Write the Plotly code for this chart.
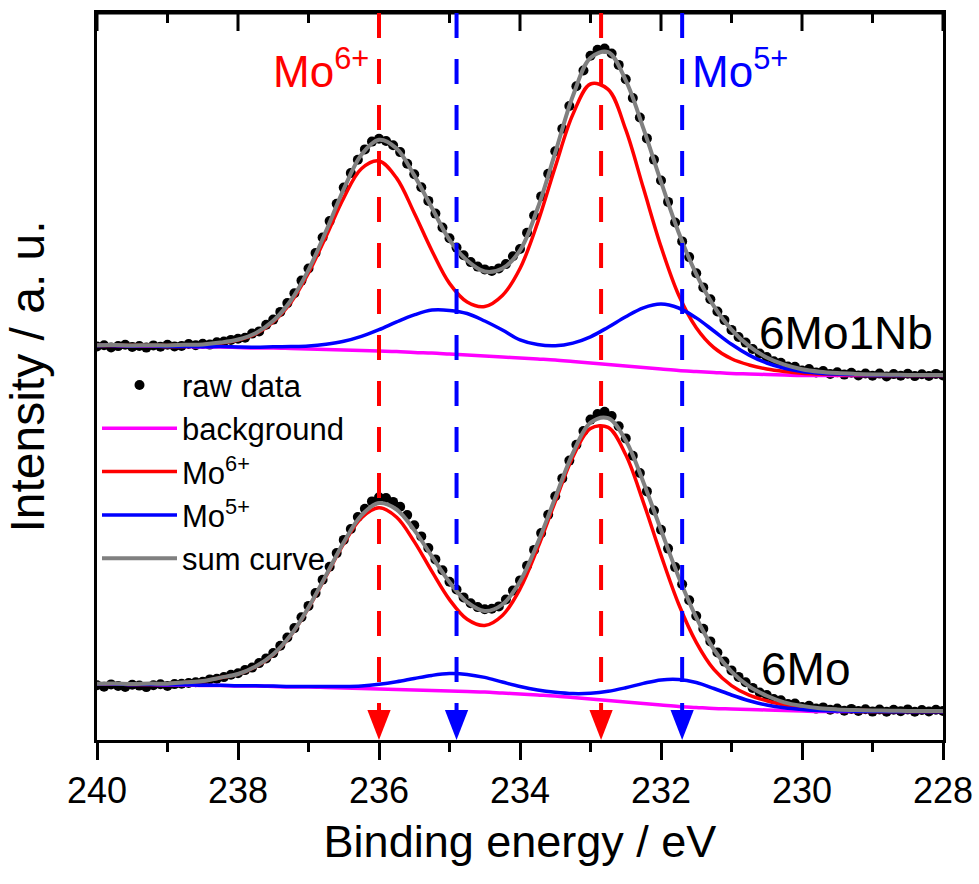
import plotly.graph_objects as go

# ---------------- data ----------------
comp_energy = [240.0, 239.75, 239.5, 239.25, 239.0, 238.75, 238.5, 238.25, 238.0, 237.75,
               237.5, 237.25, 237.0, 236.75, 236.5, 236.25, 236.0, 235.75, 235.5, 235.25,
               235.0, 234.75, 234.5, 234.25, 234.0, 233.75, 233.5, 233.25, 233.0, 232.75,
               232.5, 232.25, 232.0, 231.75, 231.5, 231.25, 231.0, 230.75, 230.5, 230.25,
               230.0, 229.75, 229.5, 229.25, 229.0, 228.75, 228.5, 228.25, 228.0]

raw_energy = [240.0, 239.9, 239.8, 239.7, 239.6, 239.5, 239.4, 239.3, 239.2, 239.1,
              239.0, 238.9, 238.8, 238.7, 238.6, 238.5, 238.4, 238.3, 238.2, 238.1,
              238.0, 237.9, 237.8, 237.7, 237.6, 237.5, 237.4, 237.3, 237.2, 237.1,
              237.0, 236.9, 236.8, 236.7, 236.6, 236.5, 236.4, 236.3, 236.2, 236.1,
              236.0, 235.9, 235.8, 235.7, 235.6, 235.5, 235.4, 235.3, 235.2, 235.1,
              235.0, 234.9, 234.8, 234.7, 234.6, 234.5, 234.4, 234.3, 234.2, 234.1,
              234.0, 233.9, 233.8, 233.7, 233.6, 233.5, 233.4, 233.3, 233.2, 233.1,
              233.0, 232.9, 232.8, 232.7, 232.6, 232.5, 232.4, 232.3, 232.2, 232.1,
              232.0, 231.9, 231.8, 231.7, 231.6, 231.5, 231.4, 231.3, 231.2, 231.1,
              231.0, 230.9, 230.8, 230.7, 230.6, 230.5, 230.4, 230.3, 230.2, 230.1,
              230.0, 229.9, 229.8, 229.7, 229.6, 229.5, 229.4, 229.3, 229.2, 229.1,
              229.0, 228.9, 228.8, 228.7, 228.6, 228.5, 228.4, 228.3, 228.2, 228.1,
              228.0]

# 6Mo1Nb (upper spectrum)
nb_raw = [393.5, 394.8, 392.6, 393.9, 395.2, 393.1, 394.0, 392.4, 394.6, 393.2,
          395.3, 393.6, 394.1, 396.0, 394.7, 396.3, 395.4, 397.8, 398.4, 400.1,
          401.3, 402.2, 406.4, 408.6, 415.3, 420.4, 428.1, 436.9, 446.8, 459.4,
          471.5, 487.0, 502.5, 518.9, 536.2, 552.4, 566.9, 580.3, 590.6, 598.4,
          601.2, 599.0, 594.8, 587.9, 576.2, 565.8, 552.7, 539.1, 526.4, 512.5,
          501.8, 492.4, 484.8, 477.9, 473.4, 470.6, 469.0, 471.6, 475.9, 483.7,
          491.0, 507.2, 524.5, 543.6, 566.3, 588.7, 611.2, 634.0, 653.8, 669.5,
          684.3, 690.2, 691.4, 686.5, 675.1, 660.8, 642.0, 622.5, 601.6, 580.4,
          559.5, 538.1, 517.5, 498.6, 482.9, 466.7, 452.6, 440.8, 428.5, 419.9,
          410.1, 403.0, 397.4, 391.0, 386.4, 382.9, 378.8, 377.2, 373.5, 373.3,
          369.5, 370.9, 367.6, 368.9, 366.1, 367.8, 365.4, 367.2, 364.6, 366.5,
          364.3, 366.4, 363.6, 365.9, 364.2, 366.3, 363.9, 365.7, 364.0, 366.1,
          364.5]
nb_background = [394.5, 394.5, 394.0, 394.0, 393.5, 393.5, 393.0, 393.0, 392.5, 392.0,
                 392.0, 391.5, 391.0, 390.5, 390.0, 389.5, 389.0, 388.5, 387.5, 387.0,
                 386.0, 385.0, 384.0, 383.0, 382.0, 381.0, 380.0, 378.5, 377.0, 375.5,
                 374.0, 372.5, 371.0, 369.5, 368.5, 367.5, 366.5, 366.0, 365.5, 365.0,
                 364.5, 364.5, 364.5, 364.5, 364.5, 364.5, 364.5, 364.5, 364.5]
nb_mo6 = [394.7, 394.8, 394.4, 394.6, 394.4, 394.9, 395.3, 397.0, 400.0, 406.0,
          418.0, 437.5, 467.0, 503.8, 542.1, 571.2, 579.0, 561.9, 527.0, 489.3,
          456.6, 438.0, 433.5, 444.5, 471.5, 517.3, 573.1, 625.6, 656.0, 650.6,
          610.3, 551.9, 493.4, 445.0, 412.3, 392.4, 381.2, 375.0, 371.0, 368.5,
          366.8, 366.0, 365.5, 365.2, 365.0, 364.9, 364.8, 364.7, 364.7]
nb_mo5 = [394.6, 394.6, 394.1, 394.2, 393.7, 393.8, 393.3, 393.4, 393.0, 392.8,
          393.2, 393.5, 394.1, 395.8, 398.7, 403.6, 410.3, 418.1, 425.1, 429.9,
          429.6, 426.5, 419.0, 410.0, 400.1, 395.4, 394.2, 396.9, 403.2, 412.8,
          423.3, 432.2, 435.9, 432.0, 422.1, 409.0, 395.7, 384.9, 377.0, 371.8,
          368.5, 366.8, 365.9, 365.4, 365.1, 364.9, 364.8, 364.7, 364.7]
nb_sum = [394.8, 394.9, 394.5, 394.8, 394.6, 395.2, 395.6, 397.4, 400.5, 406.8,
          419.2, 439.5, 470.1, 509.1, 550.8, 585.3, 600.3, 591.5, 564.6, 532.2,
          500.2, 479.5, 468.5, 471.5, 489.6, 531.7, 587.3, 644.0, 682.2, 687.9,
          659.6, 611.6, 558.3, 507.5, 465.9, 433.9, 410.4, 393.9, 382.5, 375.3,
          370.8, 368.3, 366.9, 366.1, 365.6, 365.3, 365.1, 364.9, 364.9]

# 6Mo (lower spectrum)
mo_raw = [54.8, 53.2, 55.6, 54.1, 53.0, 55.2, 54.4, 52.9, 54.7, 55.8,
          54.0, 55.9, 56.2, 57.0, 57.8, 58.3, 60.6, 61.2, 62.9, 65.3,
          66.8, 69.9, 72.4, 76.9, 81.6, 86.9, 94.3, 102.5, 111.9, 122.8,
          134.1, 146.9, 160.3, 173.2, 186.9, 200.1, 211.0, 223.0, 231.3, 238.6,
          242.7, 242.0, 238.1, 233.2, 224.9, 214.8, 203.6, 192.0, 180.6, 169.8,
          158.3, 150.5, 142.6, 136.7, 132.9, 130.8, 131.2, 133.6, 140.5, 149.4,
          159.6, 174.2, 190.1, 206.9, 225.3, 243.7, 261.6, 279.4, 295.2, 309.0,
          320.4, 326.0, 328.2, 323.9, 313.8, 301.6, 284.3, 267.0, 248.6, 229.5,
          210.3, 191.4, 172.9, 155.7, 139.8, 124.0, 111.2, 98.6, 87.5, 78.4,
          69.6, 63.1, 57.8, 52.1, 47.5, 44.9, 41.0, 39.8, 36.1, 36.4,
          33.0, 34.3, 31.4, 32.6, 30.2, 31.5, 29.2, 31.1, 29.0, 30.8,
          28.4, 30.5, 28.3, 30.2, 28.7, 30.6, 28.2, 30.0, 28.6, 30.3,
          29.1]
mo_background = [56.0, 56.0, 55.5, 55.5, 55.0, 55.0, 54.5, 54.5, 54.0, 54.0,
                 53.5, 53.0, 53.0, 52.5, 52.0, 51.5, 51.0, 50.5, 50.0, 49.5,
                 49.0, 48.5, 48.0, 47.0, 46.0, 45.0, 44.0, 42.5, 41.0, 39.5,
                 38.0, 36.5, 35.0, 33.5, 32.5, 31.5, 31.0, 30.5, 30.0, 29.5,
                 29.0, 28.5, 28.5, 28.5, 28.5, 28.5, 28.5, 28.5, 28.5]
mo_mo6 = [56.2, 56.3, 55.9, 56.2, 56.1, 57.5, 58.8, 62.2, 65.8, 73.2,
          85.4, 104.7, 132.0, 164.0, 196.3, 222.1, 232.2, 222.8, 198.4, 168.6,
          140.4, 120.7, 114.5, 124.5, 151.0, 191.9, 238.5, 283.0, 311.6, 312.6,
          285.2, 237.7, 184.9, 136.0, 97.7, 70.6, 54.4, 44.8, 39.3, 35.0,
          32.6, 30.9, 30.1, 29.6, 29.3, 29.1, 29.0, 28.9, 28.8]
mo_mo5 = [56.1, 56.1, 55.6, 55.7, 55.2, 55.2, 54.7, 54.7, 54.2, 54.3,
          53.9, 53.4, 53.6, 53.4, 53.5, 54.1, 55.7, 58.2, 61.5, 64.6,
          66.4, 65.6, 62.6, 58.0, 53.5, 50.0, 47.7, 46.4, 46.7, 48.7,
          52.3, 56.6, 60.1, 60.6, 57.5, 51.5, 45.0, 39.3, 35.0, 32.2,
          30.5, 29.4, 29.0, 28.8, 28.7, 28.6, 28.6, 28.6, 28.6]
mo_sum = [56.3, 56.4, 56.0, 56.4, 56.3, 57.7, 59.0, 62.4, 66.0, 73.5,
          85.8, 105.1, 132.6, 164.9, 197.8, 224.7, 236.9, 230.5, 209.9, 183.7,
          157.8, 137.8, 129.1, 135.5, 158.5, 196.9, 242.2, 286.9, 317.3, 321.8,
          299.5, 257.8, 210.0, 163.1, 122.7, 90.6, 68.4, 53.6, 44.3, 37.7,
          34.1, 31.8, 30.6, 29.9, 29.5, 29.3, 29.1, 29.0, 28.9]

# peak positions marked by dashed lines / arrows
peak_positions = [236.0, 234.9, 232.85, 231.7]
peak_states = ["Mo6+", "Mo5+", "Mo6+", "Mo5+"]

x_ticks = [240, 238, 236, 234, 232, 230, 228]
x_minor_ticks = [239, 237, 235, 233, 231, 229]

# ---------------- style ----------------
FONT = "Liberation Sans, Arial, sans-serif"
C_RAW = "black"
C_BG = "#FF00FF"
C_MO6 = "#FF0000"
C_MO5 = "#0000FF"
C_SUM = "#808080"
state_color = {"Mo6+": C_MO6, "Mo5+": C_MO5}
PLOT_H = 727.0  # plot-area height in px

fig = go.Figure()

spectra = [
    (nb_raw, nb_background, nb_mo6, nb_mo5, nb_sum, True),
    (mo_raw, mo_background, mo_mo6, mo_mo5, mo_sum, False),
]
for raw, bg, m6, m5, sm, show in spectra:
    fig.add_trace(go.Scatter(x=raw_energy, y=raw, mode="markers", name="raw data",
                             legendgroup="raw", showlegend=show,
                             marker=dict(color=C_RAW, size=10, line=dict(width=0))))
    fig.add_trace(go.Scatter(x=comp_energy, y=bg, mode="lines", name="background",
                             legendgroup="bg", showlegend=show,
                             line=dict(color=C_BG, width=3.5, shape="spline")))
    fig.add_trace(go.Scatter(x=comp_energy, y=m6, mode="lines", name="Mo<sup>6+</sup>",
                             legendgroup="mo6", showlegend=show,
                             line=dict(color=C_MO6, width=3.5, shape="spline")))
    fig.add_trace(go.Scatter(x=comp_energy, y=m5, mode="lines", name="Mo<sup>5+</sup>",
                             legendgroup="mo5", showlegend=show,
                             line=dict(color=C_MO5, width=3.5, shape="spline")))
    fig.add_trace(go.Scatter(x=comp_energy, y=sm, mode="lines", name="sum curve",
                             legendgroup="sum", showlegend=show,
                             line=dict(color=C_SUM, width=4, shape="spline")))

shapes = []
# top frame line with inward ticks (mirrors the bottom axis ticks)
shapes.append(dict(type="line", xref="paper", yref="paper", x0=0, x1=1, y0=1, y1=1,
                   line=dict(color="black", width=3), layer="above"))
for t in x_ticks:
    shapes.append(dict(type="line", xref="x", yref="paper", x0=t, x1=t,
                       y0=1, y1=1 - 18 / PLOT_H, line=dict(color="black", width=3),
                       layer="above"))
for t in x_minor_ticks:
    shapes.append(dict(type="line", xref="x", yref="paper", x0=t, x1=t,
                       y0=1, y1=1 - 10 / PLOT_H, line=dict(color="black", width=3),
                       layer="above"))

arrow_h = 30 / PLOT_H
arrow_hw = 0.165
for p, st in zip(peak_positions, peak_states):
    col = state_color[st]
    shapes.append(dict(type="line", xref="x", yref="paper", x0=p, x1=p, y0=1, y1=arrow_h,
                       line=dict(color=col, width=4, dash="25px,21px"), layer="above"))
    shapes.append(dict(type="path", xref="x", yref="paper",
                       path=f"M {p - arrow_hw},{arrow_h} L {p + arrow_hw},{arrow_h} L {p},0 Z",
                       fillcolor=col, line=dict(width=0), layer="above"))

annotations = [
    dict(text="Mo<sup>6+</sup>", x=peak_positions[0], y=672, xref="x", yref="y",
         xanchor="right", yanchor="middle", xshift=-8, showarrow=False,
         font=dict(family=FONT, size=44, color=C_MO6)),
    dict(text="Mo<sup>5+</sup>", x=peak_positions[3], y=672, xref="x", yref="y",
         xanchor="left", yanchor="middle", xshift=8, showarrow=False,
         font=dict(family=FONT, size=44, color=C_MO5)),
    dict(text="6Mo1Nb", x=228, y=407, xref="x", yref="y",
         xanchor="right", yanchor="middle", xshift=-8, showarrow=False,
         font=dict(family=FONT, size=46, color="black")),
    dict(text="6Mo", x=230.61, y=71, xref="x", yref="y",
         xanchor="left", yanchor="middle", showarrow=False,
         font=dict(family=FONT, size=46, color="black")),
]

fig.update_layout(
    width=979, height=884,
    margin=dict(l=97, r=36, t=13, b=144, pad=0),
    paper_bgcolor="white", plot_bgcolor="white",
    font=dict(family=FONT, color="black"),
    showlegend=True,
    legend=dict(x=0.0, y=0.525, xanchor="left", yanchor="top",
                bgcolor="rgba(0,0,0,0)", borderwidth=0,
                font=dict(family=FONT, size=31, color="black"),
                itemwidth=75, tracegroupgap=0),
    xaxis=dict(range=[240, 228], tickmode="array", tickvals=x_ticks,
               ticktext=[str(t) for t in x_ticks],
               ticks="outside", ticklen=17, tickwidth=3, tickcolor="black",
               minor=dict(tickvals=x_minor_ticks, ticks="outside", ticklen=9,
                          tickwidth=3, tickcolor="black"),
               showline=True, linewidth=3, linecolor="black", mirror=True,
               showgrid=False, zeroline=False, automargin=False,
               tickfont=dict(family=FONT, size=36, color="black"),
               title=dict(text="Binding energy / eV", standoff=16,
                          font=dict(family=FONT, size=45, color="black"))),
    yaxis=dict(range=[0, 727], showticklabels=False, ticks="",
               showline=True, linewidth=3, linecolor="black", mirror=True,
               showgrid=False, zeroline=False, automargin=False,
               title=dict(text="Intensity / a. u.", standoff=35,
                          font=dict(family=FONT, size=48, color="black"))),
    shapes=shapes,
    annotations=annotations,
)

fig.write_html("out.html")
